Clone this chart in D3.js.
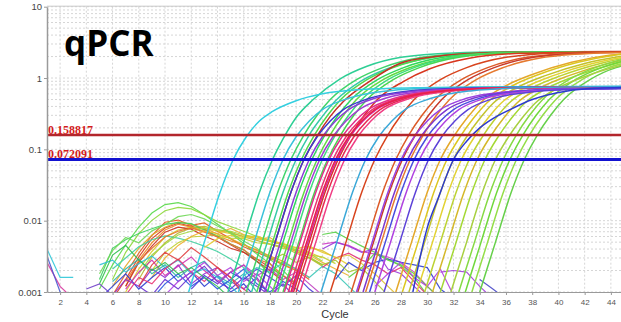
<!DOCTYPE html>
<html><head><meta charset="utf-8">
<script src="https://cdn.jsdelivr.net/npm/d3@7"></script>
<style>body{margin:0;background:#fff}svg{display:block}</style>
</head><body>
<svg id="c" width="621" height="322"></svg>
<script>
// ---------- data ----------
const xTicks = [2,4,6,8,10,12,14,16,18,20,22,24,26,28,30,32,34,36,38,40,42,44];
const yTicks = [0.001,0.01,0.1,1,10];
const yTickLabels = ["0.001","0.01","0.1","1","10"];
const thresholds = [0.158817, 0.072091];
const thresholdLabels = ["0.158817","0.072091"];
const titleText = "qPCR";
const xLabel = "Cycle";

// amplification curves: [cycle, fluorescence] knots
const ampCurves = [
 [[14.8,0.001],[16,0.005],[17.2,0.025],[18.2,0.072],[19,0.14],[20,0.28],[21.3,0.5],[23.3,0.96],[25.4,1.46],[28,1.95],[32,2.25],[36,2.32],[45,2.34]],
 [[16.2,0.001],[17.4,0.005],[18.6,0.025],[19.6,0.072],[20.6,0.16],[21.6,0.3],[22.6,0.5],[24.6,0.95],[26.6,1.4],[29.6,1.95],[33.6,2.25],[38,2.32],[45,2.33]],
 [[16.6,0.001],[17.8,0.005],[19,0.025],[20,0.072],[21,0.16],[22,0.29],[23,0.48],[25,0.92],[27,1.36],[30,1.9],[34,2.22],[39,2.3],[45,2.32]],
 [[17,0.001],[18.2,0.005],[19.4,0.025],[20.4,0.072],[21.4,0.16],[22.4,0.3],[23.4,0.5],[25.4,0.95],[27.4,1.4],[30.4,1.95],[34.4,2.25],[39,2.32],[45,2.33]],
 [[17.2,0.001],[18.4,0.005],[19.6,0.025],[20.6,0.072],[21.6,0.155],[22.6,0.29],[23.6,0.47],[25.6,0.9],[27.9,1.6],[30.6,2.0],[34.6,2.26],[39,2.33],[45,2.35]],
 [[17.8,0.001],[19,0.005],[20.2,0.025],[21.2,0.072],[22.2,0.16],[23.2,0.3],[24.2,0.5],[26.2,0.95],[28.2,1.4],[31.2,1.95],[35.2,2.25],[40,2.32],[45,2.33]],
 [[18.2,0.001],[19.4,0.005],[20.6,0.025],[21.6,0.072],[22.6,0.16],[23.6,0.3],[24.6,0.5],[26.6,0.94],[28.6,1.38],[31.6,1.93],[35.6,2.24],[40,2.31],[45,2.33]],
 [[18.6,0.001],[19.8,0.005],[21,0.025],[22,0.072],[23,0.16],[24,0.3],[25,0.5],[27,0.95],[29,1.4],[32,1.95],[36,2.25],[41,2.32],[45,2.33]],
 [[19,0.001],[20.2,0.005],[21.4,0.025],[22.4,0.072],[23.4,0.16],[24.4,0.3],[25.4,0.5],[27.4,0.95],[29.4,1.4],[32.4,1.95],[36.4,2.25],[41,2.32],[45,2.33]],
 [[19.8,0.001],[21,0.005],[22.2,0.025],[23.2,0.072],[24.2,0.16],[25.2,0.3],[26.2,0.5],[28.2,0.9],[30.2,1.35],[33.2,1.9],[37.2,2.22],[42,2.31],[45,2.33]],
 [[22.6,0.001],[23.8,0.005],[25,0.025],[26,0.072],[27,0.16],[28,0.3],[29,0.5],[31,0.95],[33,1.4],[36,1.95],[40,2.25],[45,2.32]],
 [[24.2,0.001],[25.4,0.005],[26.6,0.025],[27.6,0.072],[28.6,0.16],[29.6,0.3],[30.6,0.5],[32.6,0.95],[34.6,1.4],[37.6,1.95],[41.6,2.25],[45,2.31]],
 [[24.7,0.001],[25.9,0.005],[27.1,0.025],[28.1,0.072],[29.1,0.16],[30.1,0.3],[31.1,0.5],[33.1,0.95],[35.1,1.4],[38.1,1.95],[42.1,2.25],[45,2.3]],
 [[25.3,0.001],[26.5,0.005],[27.7,0.025],[28.7,0.072],[29.7,0.16],[30.7,0.3],[31.7,0.5],[33.7,0.94],[35.7,1.38],[38.7,1.92],[42.7,2.22],[45,2.28]],
 [[27.6,0.001],[28.8,0.005],[30,0.025],[31,0.072],[32,0.15],[33,0.27],[34,0.44],[36,0.78],[38,1.12],[41,1.66],[44,2.1],[45,2.2]],
 [[28.1,0.001],[29.3,0.005],[30.5,0.025],[31.5,0.072],[32.5,0.15],[33.5,0.27],[34.5,0.44],[36.5,0.78],[38.5,1.12],[41.5,1.66],[44.5,2.12],[45,2.18]],
 [[28.6,0.001],[29.8,0.005],[31,0.025],[32,0.072],[33,0.15],[34,0.27],[35,0.44],[37,0.76],[39,1.08],[42,1.6],[45,2.05]],
 [[29.2,0.001],[30.4,0.005],[31.6,0.025],[32.6,0.072],[33.6,0.15],[34.6,0.27],[35.6,0.44],[37.6,0.76],[39.6,1.08],[42.6,1.6],[45,1.98]],
 [[29.8,0.001],[31,0.005],[32.2,0.025],[33.2,0.072],[34.2,0.15],[35.2,0.27],[36.2,0.44],[38.2,0.76],[40.2,1.08],[43.2,1.6],[45,1.9]],
 [[30.4,0.001],[31.6,0.005],[32.8,0.025],[33.8,0.072],[34.8,0.15],[35.8,0.27],[36.8,0.44],[38.8,0.76],[40.8,1.08],[43.8,1.6],[45,1.8]],
 [[31,0.001],[32.2,0.005],[33.4,0.025],[34.4,0.072],[35.4,0.15],[36.4,0.27],[37.4,0.44],[39.4,0.76],[41.4,1.08],[44.4,1.6],[45,1.7]],
 [[32.4,0.001],[33.6,0.005],[34.8,0.025],[35.8,0.072],[36.8,0.16],[37.8,0.3],[38.8,0.5],[40.8,0.95],[42.8,1.4],[45,1.85]],
 [[32.9,0.001],[34.1,0.005],[35.3,0.025],[36.3,0.072],[37.3,0.16],[38.3,0.3],[39.3,0.5],[41.3,0.95],[43.3,1.4],[45,1.75]],
 [[33.4,0.001],[34.6,0.005],[35.8,0.025],[36.8,0.072],[37.8,0.16],[38.8,0.3],[39.8,0.5],[41.8,0.95],[43.8,1.4],[45,1.62]],
 [[34,0.001],[35.2,0.005],[36.4,0.025],[37.4,0.072],[38.4,0.16],[39.4,0.3],[40.4,0.5],[42.4,0.95],[44.4,1.4],[45,1.5]],
 [[31.8,0.001],[33,0.005],[34.2,0.025],[35.2,0.072],[36.2,0.15],[37.2,0.27],[38.2,0.44],[40.2,0.76],[42.2,1.08],[45,1.55]],
 // low-plateau curves
 [[11.8,0.001],[13,0.005],[14.2,0.025],[15.2,0.072],[16.2,0.15],[17.2,0.25],[18.2,0.34],[20,0.48],[22,0.6],[25,0.69],[29,0.73],[35,0.75],[45,0.76]],
 [[15.6,0.001],[16.8,0.005],[18,0.025],[19,0.072],[20,0.15],[21,0.25],[22,0.36],[24,0.52],[27,0.66],[31,0.73],[37,0.755],[45,0.76]],
 [[17.2,0.001],[18.4,0.005],[19.6,0.025],[20.6,0.072],[21.6,0.15],[22.6,0.25],[23.6,0.36],[25.6,0.52],[28.6,0.66],[32.6,0.72],[38,0.74],[45,0.75]],
 [[17.6,0.001],[18.8,0.005],[20,0.025],[21,0.072],[22,0.15],[23,0.25],[24,0.36],[26,0.52],[29,0.65],[33,0.71],[39,0.73],[45,0.74]],
 [[18.4,0.001],[19.6,0.005],[20.8,0.025],[21.8,0.072],[22.8,0.15],[23.8,0.25],[24.8,0.36],[26.8,0.52],[29.8,0.65],[33.8,0.71],[39,0.73],[45,0.74]],
 [[19.1,0.001],[20.3,0.005],[21.5,0.025],[22.5,0.072],[23.5,0.15],[24.5,0.25],[25.5,0.36],[27.5,0.52],[30.5,0.65],[34.5,0.72],[40,0.74],[45,0.75]],
 [[19.4,0.001],[20.6,0.005],[21.8,0.025],[22.8,0.072],[23.8,0.15],[24.8,0.25],[25.8,0.36],[27.8,0.52],[30.8,0.65],[34.8,0.72],[40,0.74],[45,0.75]],
 [[19.7,0.001],[20.9,0.005],[22.1,0.025],[23.1,0.072],[24.1,0.15],[25.1,0.25],[26.1,0.36],[28.1,0.52],[31.1,0.65],[35.1,0.71],[40,0.73],[45,0.74]],
 [[20,0.001],[21.2,0.005],[22.4,0.025],[23.4,0.072],[24.4,0.15],[25.4,0.25],[26.4,0.36],[28.4,0.52],[31.4,0.65],[35.4,0.72],[41,0.74],[45,0.75]],
 [[20.3,0.001],[21.5,0.005],[22.7,0.025],[23.7,0.072],[24.7,0.15],[25.7,0.25],[26.7,0.36],[28.7,0.52],[31.7,0.65],[35.7,0.72],[41,0.74],[45,0.75]],
 [[19.6,0.001],[20.8,0.005],[22,0.025],[23,0.072],[24,0.15],[25,0.25],[26,0.36],[28,0.52],[31,0.65],[35,0.72],[40,0.74],[45,0.75]],
 [[21.9,0.001],[23.1,0.005],[24.3,0.025],[25.3,0.072],[26.3,0.15],[27.3,0.25],[28.3,0.36],[30.3,0.52],[33.3,0.66],[37.3,0.73],[45,0.76]],
 [[24.6,0.001],[25.8,0.005],[27,0.025],[28,0.072],[29,0.15],[30,0.25],[31,0.36],[33,0.52],[36,0.64],[40,0.7],[45,0.72]],
 [[25.1,0.001],[26.3,0.005],[27.5,0.025],[28.5,0.072],[29.5,0.15],[30.5,0.25],[31.5,0.36],[33.5,0.52],[36.5,0.64],[40.5,0.7],[45,0.72]],
 [[25.6,0.001],[26.8,0.005],[28,0.025],[29,0.072],[30,0.15],[31,0.25],[32,0.36],[34,0.52],[37,0.64],[41,0.7],[45,0.72]],
 [[26,0.001],[27.2,0.005],[28.4,0.025],[29.4,0.072],[30.4,0.15],[31.4,0.25],[32.4,0.36],[34.4,0.52],[37.4,0.64],[41.4,0.7],[45,0.72]],
 [[26.7,0.001],[27.9,0.005],[29.1,0.025],[30.1,0.072],[31.1,0.15],[32.1,0.25],[33.1,0.36],[35.1,0.52],[38.1,0.64],[42.1,0.7],[45,0.71]],
 [[28.9,0.001],[30,0.008],[30.8,0.02],[32,0.072],[33,0.13],[34,0.2],[35,0.27],[36.3,0.36],[38,0.5],[40.7,0.66],[43,0.72],[45,0.74]]
];

// baseline noise traces: first cycle + one value per cycle
const noiseStart = [6,6,7,5,6,7,8,6,5,6,7,8,9,7,9,13,5, 5,6,7,5,6,7,8,9,10,5,8,12,14,16, 22,22,22,23,31,34,22,24,26,20,18, 1,1,1,4];
const noiseValues = [
 [0.0009,0.0018,0.0035,0.0062,0.0095,0.0102,0.0086,0.0093,0.0071,0.0056,0.0043,0.0036,0.003,0.0024,0.002,0.0015],
 [0.0008,0.0015,0.0031,0.0056,0.0079,0.0092,0.0083,0.0076,0.0059,0.0046,0.0036,0.0029,0.0022,0.0017,0.0012],
 [0.0012,0.0028,0.0049,0.0074,0.0089,0.0081,0.0071,0.0061,0.0052,0.0046,0.0039,0.0032,0.0027,0.0021,0.0016],
 [0.0011,0.0024,0.0046,0.0081,0.0128,0.0168,0.0179,0.0158,0.0121,0.0089,0.0066,0.0048,0.0034,0.0025,0.0015],
 [0.0015,0.0036,0.0066,0.0101,0.0138,0.0154,0.0146,0.0121,0.0097,0.0083,0.0071,0.006,0.0053,0.0045,0.0037,0.003,0.0024],
 [0.001,0.0021,0.0037,0.0059,0.0074,0.0081,0.0077,0.0072,0.0066,0.0061,0.0056,0.0051,0.0047,0.0042,0.0036,0.003],
 [0.0015,0.0031,0.0049,0.0067,0.0079,0.0083,0.0075,0.0069,0.0059,0.0053,0.0047,0.0043,0.0035,0.003,0.0023],
 [0.0012,0.0023,0.0041,0.0063,0.0081,0.0096,0.0089,0.0079,0.0065,0.0056,0.0046,0.0038,0.0031,0.0025,0.002],
 [0.0015,0.0041,0.0054,0.0066,0.0077,0.0089,0.0094,0.0091,0.0074,0.0061,0.0047,0.0039,0.0027,0.0018],
 [0.0021,0.003,0.0043,0.0054,0.0061,0.0057,0.0051,0.0044,0.0037,0.0029,0.0022,0.0015],
 [0.0012,0.0026,0.0044,0.0069,0.0081,0.0076,0.0061,0.0051,0.0041,0.0036,0.0027,0.002,0.0014],
 [0.0018,0.0033,0.0047,0.0063,0.0071,0.0079,0.0074,0.0071,0.0063,0.0059,0.0051,0.0047,0.0039,0.0035,0.0027],
 [0.002,0.0036,0.0049,0.0059,0.0061,0.0063,0.0057,0.0056,0.0049,0.0047,0.0041,0.0039,0.0033,0.0031,0.0025],
 [0.0014,0.0027,0.0041,0.0059,0.0071,0.0079,0.0069,0.0059,0.0047,0.0039,0.0029,0.0025,0.0017,0.0013],
 [0.0016,0.003,0.0045,0.006,0.0072,0.0066,0.0078,0.0064,0.0055,0.0058,0.0044,0.0037,0.0033,0.0026,0.0021,0.0017],
 [0.0042,0.0056,0.0062,0.0058,0.0061,0.0052,0.0048,0.0041,0.0044,0.0036,0.0031,0.0024],
 [0.0018,0.0038,0.0058,0.0049,0.0072,0.0088,0.0114,0.0122,0.0106,0.0084,0.0068,0.0052,0.0041,0.0029,0.002,0.0013],
 [0.0008,0.0012,0.0018,0.0011,0.0016,0.0022,0.0014,0.0019,0.0012,0.0017,0.001,0.0013,0.0008],
 [0.0009,0.0015,0.0012,0.0021,0.0016,0.0024,0.0013,0.0018,0.0022,0.0014,0.0011,0.0016,0.0009],
 [0.0011,0.0019,0.0028,0.0017,0.0023,0.0031,0.002,0.0014,0.0019,0.0024,0.0015,0.0009],
 [0.0024,0.0028,0.0019,0.0025,0.0032,0.0022,0.0028,0.0018,0.0021,0.0016,0.0012,0.0008],
 [0.0014,0.0021,0.0029,0.0018,0.0024,0.0016,0.0022,0.0027,0.0017,0.0013,0.0018,0.001],
 [0.0009,0.0016,0.0013,0.0021,0.0029,0.0019,0.0014,0.0022,0.0016,0.0011,0.0008],
 [0.0012,0.0009,0.0015,0.0011,0.0017,0.0023,0.0014,0.0011,0.0016,0.0012,0.0009,0.0013,0.0008],
 [0.0008,0.0013,0.0018,0.0012,0.0016,0.0011,0.0015,0.0021,0.0013,0.001,0.0014,0.0011,0.0008],
 [0.0009,0.0014,0.0019,0.0026,0.0017,0.0022,0.0014,0.0018,0.0012,0.0008],
 [0.0013,0.0033,0.0045,0.0028,0.002,0.0026,0.0018,0.0022,0.0016,0.0012,0.0008],
 [0.0012,0.0024,0.0036,0.0028,0.0042,0.0031,0.0022,0.0016,0.0009],
 [0.0011,0.0017,0.0013,0.0019,0.0015,0.0021,0.0016,0.0012,0.0017,0.0011,0.0008],
 [0.0013,0.0019,0.0024,0.0017,0.0021,0.0015,0.0019,0.0013,0.0009],
 [0.0017,0.0022,0.0019,0.0026,0.0021,0.0016,0.0023,0.0018,0.0012,0.0008],
 [0.0047,0.005,0.0045,0.0037,0.0034,0.0031,0.0026,0.0019,0.0012,0.0008],
 [0.0064,0.0069,0.0055,0.0044,0.0036,0.0029,0.0023,0.0016,0.0009],
 [0.004,0.005,0.0044,0.0036,0.004,0.0021,0.0018,0.0012,0.0008],
 [0.0015,0.0026,0.002,0.0026,0.0029,0.0026,0.0024,0.0022,0.0011,0.0008],
 [0.0019,0.002,0.0019,0.0012,0.0008],
 [0.0015,0.0011,0.0008],
 [0.0022,0.003,0.0035,0.0028,0.0024,0.0018,0.0022,0.0014,0.0009],
 [0.0016,0.0022,0.0035,0.0028,0.0024,0.0018,0.0012,0.0008],
 [0.0012,0.0018,0.0026,0.0016,0.0012,0.0021,0.0009],
 [0.0035,0.0042,0.0038,0.003,0.0033,0.0025,0.0018,0.0012,0.0008],
 [0.0028,0.0034,0.0026,0.0031,0.0024,0.0028,0.0019,0.0022,0.0014,0.0009],
 [0.004,0.0016,0.0016],
 [0.0026,0.0012,0.0008],
 [0.0032,0.001,0.0007],
 [0.0011,0.0013,0.0009]
];

// ---------- styles ----------
const ampColors = ["#2ecf95","#3fd46a","#36caa8","#52da4c","#c43024","#2fd85c","#62da42","#3edc7e","#48d650","#d8361e",
 "#d8441e","#dc5a28","#c83a2a","#e67a30","#e4a82a","#dcc620","#c2c22c","#e2d232","#bcd232","#d4b82a","#a4d834",
 "#86da44","#70d83c","#94de48","#66d04a","#a8d040",
 "#34cfe0","#3ac2da","#3a3ccc","#8c3cd8","#a23ed2","#e0308c","#e83272","#d22ca4","#e62a50","#f03e84","#e8204a",
 "#3aa8d8","#9a42e0","#7c36d0","#4a4ce0","#b042e0","#5c42d8","#2c3ad0"];
const noiseColors = ["#e05a20","#d63a1e","#ee8a22","#58d848","#8cd838","#d8c828","#b8b830","#e0a828","#40d060","#40d0a0",
 "#c83020","#a0d840","#c0d030","#e87030","#ecb030","#e4cc30","#70d858",
 "#3040d0","#9030d0","#d030b0","#30c0d8","#30b8a8","#e83070","#6a30d0","#2858e0","#b040e0","#30c050","#e04040",
 "#4a3ad8","#c040c0","#3cc8b8",
 "#d040c8","#58d048","#9838d8","#3040d0","#a040d8","#4848c8","#e03078","#60d040","#b040e0","#e0c030","#a8c830",
 "#30c8d8","#d838a0","#4858d0","#7040c8"];
const thresholdColors = ["#b3262c","#1212d0"];

// ---------- chart ----------
const svg = d3.select("#c");
const L = 47, R = 624, T = 6.7, B = 292;
const x = d3.scaleLinear().domain([1,45]).range([L,R]);
const y = d3.scaleLog().domain([0.001,10]).range([B,T]);

// grid
const grid = svg.append("g");
grid.selectAll("line.h").data(y.ticks()).join("line")
  .attr("x1",L).attr("x2",621).attr("y1",d=>y(d)).attr("y2",d=>y(d))
  .attr("stroke","#d6d6d6").attr("stroke-width",1).attr("stroke-dasharray","2,2");
grid.selectAll("line.v").data(xTicks).join("line")
  .attr("x1",d=>x(d)).attr("x2",d=>x(d)).attr("y1",T).attr("y2",B)
  .attr("stroke","#d6d6d6").attr("stroke-width",1).attr("stroke-dasharray","2,2");
svg.append("line").attr("x1",L).attr("x2",621).attr("y1",T-0.5).attr("y2",T-0.5)
  .attr("stroke","#c8c8c8").attr("stroke-width",1);

svg.append("clipPath").attr("id","plot").append("rect")
  .attr("x",L).attr("y",T).attr("width",R-L).attr("height",B-T);
const plot = svg.append("g").attr("clip-path","url(#plot)");

const lineLin = d3.line().x(d=>x(d[0])).y(d=>y(d[1]));
const lineSmooth = d3.line().x(d=>x(d[0])).y(d=>y(d[1])).curve(d3.curveMonotoneX);

plot.selectAll("path.noise").data(noiseValues).join("path")
  .attr("d",(vals,i)=>lineLin(vals.map((v,j)=>[noiseStart[i]+j,v])))
  .attr("fill","none").attr("stroke",(d,i)=>noiseColors[i]).attr("stroke-width",1.2).attr("opacity",0.9);

plot.selectAll("path.amp").data(ampCurves).join("path")
  .attr("d",d=>lineSmooth(d))
  .attr("fill","none").attr("stroke",(d,i)=>ampColors[i]).attr("stroke-width",1.5);

// thresholds
plot.selectAll("line.th").data(thresholds).join("line")
  .attr("x1",L).attr("x2",R).attr("y1",d=>y(d)).attr("y2",d=>y(d))
  .attr("stroke",(d,i)=>thresholdColors[i]).attr("stroke-width",(d,i)=>i?3:2.6);
svg.selectAll("text.th").data(thresholds).join("text")
  .attr("x",L+1).attr("y",d=>y(d)-1)
  .attr("font-family","'Liberation Serif','Times New Roman',serif").attr("font-size",12)
  .attr("font-weight",700).attr("fill","#d41c1c").text((d,i)=>thresholdLabels[i]);

// axes
const xAxis = svg.append("g").attr("transform",`translate(0,${B})`)
  .call(d3.axisBottom(x).tickValues(xTicks).tickSize(3).tickPadding(4).tickSizeOuter(0));
xAxis.select(".domain").attr("stroke","#9a9a9a");
xAxis.selectAll(".tick line").attr("stroke","#9a9a9a");
xAxis.selectAll("text").attr("font-family","'Liberation Sans',Arial,sans-serif").attr("font-size",8).attr("fill","#555");

const yAxis = svg.append("g").attr("transform",`translate(${L},0)`)
  .call(d3.axisLeft(y).tickValues(yTicks).tickFormat((d,i)=>yTickLabels[i]).tickSize(3).tickPadding(2).tickSizeOuter(0));
yAxis.select(".domain").attr("stroke","#9a9a9a").attr("stroke-width",1.5);
yAxis.selectAll(".tick line").attr("stroke","#9a9a9a");
yAxis.selectAll("text").attr("font-family","'Liberation Sans',Arial,sans-serif").attr("font-size",9.5).attr("fill","#444");

svg.append("text").attr("x",335).attr("y",318).attr("text-anchor","middle")
  .attr("font-family","'Liberation Sans',Arial,sans-serif").attr("font-size",11).attr("fill","#333").text(xLabel);

svg.append("text").attr("x",64).attr("y",56)
  .attr("font-family","'Open Sans',sans-serif").attr("font-weight",700).attr("font-size",35)
  .attr("fill","#000").text(titleText);
</script>
</body></html>
